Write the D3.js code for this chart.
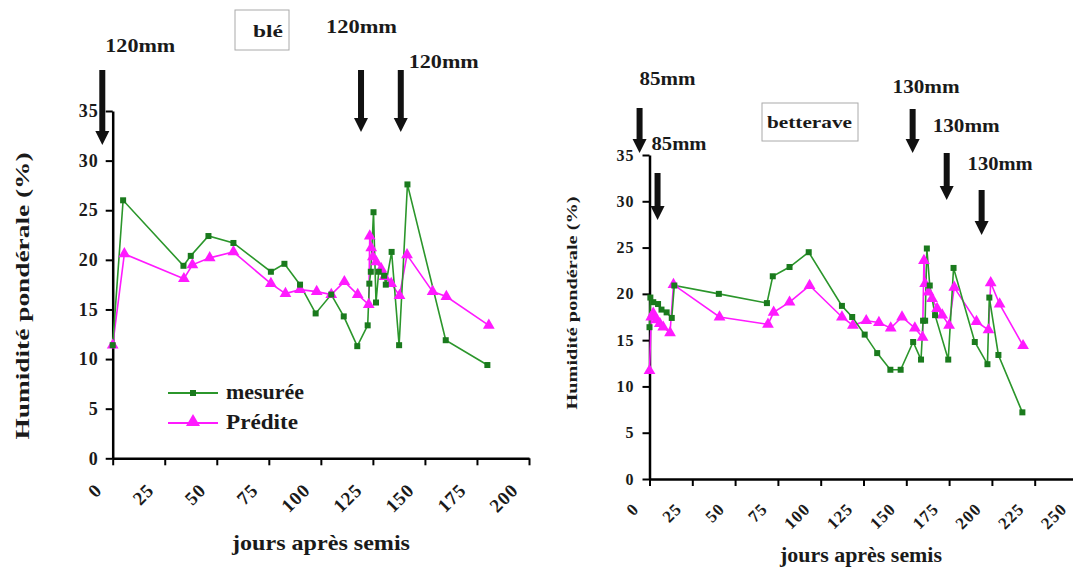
<!DOCTYPE html>
<html>
<head>
<meta charset="utf-8">
<script src="https://cdn.jsdelivr.net/npm/d3@7"></script>
<style>
body { margin: 0; background: #fff; }
text { font-family: "Liberation Serif", "Times New Roman", serif; font-weight: bold; fill: #1a1a1a; }
</style>
</head>
<body>
<script>
// ---- data ----
let yTicks = [0, 5, 10, 15, 20, 25, 30, 35];
let bleXTicks = [0, 25, 50, 75, 100, 125, 150, 175, 200];
let betXTicks = [0, 25, 50, 75, 100, 125, 150, 175, 200, 225, 250];

// blé
let bleMesJours = [0, 5, 34, 37.5, 46, 58, 76, 82.5, 90, 97.5, 105, 111, 117.5, 122.5, 123.3, 124, 125.3, 126.5, 127.8, 130.4, 131.2, 134, 137.6, 141.6, 160, 180];
let bleMesVal   = [11.4, 26.0, 19.4, 20.4, 22.4, 21.7, 18.8, 19.6, 17.5, 14.6, 16.5, 14.3, 11.3, 13.4, 17.6, 18.8, 24.8, 15.7, 18.8, 18.4, 17.5, 20.8, 11.4, 27.6, 11.9, 9.4];
let blePredJours = [0, 5.6, 34.2, 38.3, 46.6, 58, 76, 83, 90, 98, 105, 111.3, 117.7, 123, 123.5, 124.2, 125, 126.6, 129, 130.6, 133.8, 137.8, 141.4, 153.7, 160.3, 180.7];
let blePredVal   = [11.4, 20.6, 18.1, 19.5, 20.2, 20.8, 17.6, 16.6, 17.0, 16.8, 16.5, 17.8, 16.5, 15.5, 22.4, 21.2, 20.3, 19.8, 19.1, 18.3, 17.6, 16.4, 20.5, 16.8, 16.3, 13.4];
let bleIrrigJours = [-5, 119.3, 138.4];
let bleIrrigLabels = ['120mm', '120mm', '120mm'];

// betterave
let betMesJours = [0, 0.5, 2.2, 5, 7, 10, 13, 14.5, 40.5, 68.6, 72, 81.8, 93, 112.4, 118.4, 125.7, 133, 140.7, 146.7, 154, 158.6, 159.8, 161, 162, 163.7, 166.8, 174.5, 177.6, 190, 197.4, 198.5, 203.8, 217.8];
let betMesVal   = [16.4, 19.6, 19.1, 18.9, 18.3, 18.0, 17.4, 20.9, 20.0, 19.0, 21.9, 22.9, 24.5, 18.7, 17.5, 15.6, 13.6, 11.8, 11.8, 14.8, 12.9, 17.1, 17.1, 24.9, 20.9, 17.7, 12.9, 22.8, 14.8, 12.4, 19.6, 13.4, 7.2];
let betPredJours = [0, 1, 2.2, 4.2, 6, 8, 12, 14, 40.9, 69.2, 72.5, 81.8, 93.5, 112.4, 118.8, 126.6, 134, 140.9, 147.5, 155, 159.5, 160.3, 161, 163, 165, 168, 171, 175, 178, 191, 198, 199.3, 204.5, 218.2];
let betPredVal   = [11.7, 17.5, 17.9, 17.2, 16.8, 16.4, 15.8, 21.0, 17.5, 16.7, 18.0, 19.1, 20.9, 17.5, 16.6, 17.1, 16.9, 16.3, 17.5, 16.3, 15.3, 23.6, 21.1, 20.2, 19.5, 18.4, 17.7, 16.6, 20.7, 17.0, 16.1, 21.2, 18.9, 14.4];
let betIrrigJours = [-5.8, 4.7, 153.7, 173.6, 194];
let betIrrigLabels = ['85mm', '85mm', '130mm', '130mm', '130mm'];

let yTitle = 'Humidité pondérale (%)';
let xTitle = 'jours après semis';

let GREEN = '#2b962b';
let GREEN_DARK = '#1a7a1d';
let MAGENTA = '#ff1aff';

let width = 1073;
let height = 569;

let svg = d3.select('body').append('svg')
            .attr('width', width)
            .attr('height', height);

// layout of the two panels
let panels = [
    {
        name: 'blé', mesJ: bleMesJours, mesV: bleMesVal, predJ: blePredJours, predV: blePredVal,
        xTicks: bleXTicks, xMax: 200, left: 112.7, right: 529, bottom: 458.3, top: 111,
        yFont: 18, xFont: 19, yLabelGap: 14,
        xLabel: { x: 321, y: 550, len: 178, size: 22 },
        yLabel: { x: 29, y: 296, len: 287, size: 19 },
        box: { x: 235, y: 10, w: 54, h: 40, tx: 253, ty: 37, len: 30, size: 17 },
        irrig: bleIrrigJours, irrigLabels: bleIrrigLabels,
        arrows: [ { top: 70, tip: 145, dx: 3, ly: 52, len: 70 },
                  { top: 70, tip: 132, dx: -35, ly: 33, len: 71 },
                  { top: 70, tip: 132, dx: 8, ly: 68, len: 70 } ],
        legend: true
    },
    {
        name: 'betterave', mesJ: betMesJours, mesV: betMesVal, predJ: betPredJours, predV: betPredVal,
        xTicks: betXTicks, xMax: 250, left: 649.5, right: 1077.5, bottom: 479, top: 155,
        yFont: 16, xFont: 17, yLabelGap: 15,
        xLabel: { x: 861, y: 562, len: 162, size: 20 },
        yLabel: { x: 577, y: 303, len: 213, size: 15 },
        box: { x: 762, y: 103, w: 96, h: 38, tx: 767, ty: 128, len: 85, size: 16 },
        irrig: betIrrigJours, irrigLabels: betIrrigLabels,
        arrows: [ { top: 108, tip: 153, dx: 0, ly: 85, len: 56 },
                  { top: 173, tip: 220, dx: -6, ly: 150, len: 55 },
                  { top: 109, tip: 153, dx: -20, ly: 93, len: 67 },
                  { top: 153, tip: 200, dx: -14, ly: 132, len: 67 },
                  { top: 190, tip: 235, dx: -14, ly: 170, len: 65 } ],
        legend: false
    }
];

function drawArrow(g, x, top, tip) {
    g.append('rect')
        .attr('x', x - 3).attr('y', top)
        .attr('width', 6).attr('height', tip - top - 12)
        .attr('fill', '#111');
    g.append('path')
        .attr('d', 'M' + (x - 7) + ',' + (tip - 14) + 'L' + (x + 7) + ',' + (tip - 14) + 'L' + x + ',' + tip + 'Z')
        .attr('fill', '#111');
}

let tri = d3.symbol().type(d3.symbolTriangle).size(60);

panels.forEach(function(p) {
    let xScale = d3.scaleLinear().domain([0, p.xMax]).range([p.left, p.right]);
    let yScale = d3.scaleLinear().domain([0, 35]).range([p.bottom, p.top]);

    let g = svg.append('g');

    // y axis
    let yAxis = g.append('g')
        .attr('transform', 'translate(' + p.left + ',0)')
        .call(d3.axisLeft(yScale).tickValues(yTicks).tickSize(7).tickSizeOuter(0).tickPadding(p.yLabelGap - 7));
    yAxis.select('.domain').attr('stroke', '#000').attr('stroke-width', 2.5);
    yAxis.selectAll('.tick line').attr('stroke', '#000').attr('stroke-width', 2);
    yAxis.selectAll('.tick text')
        .attr('fill', '#1a1a1a')
        .style('font-family', '"Liberation Serif", serif')
        .style('font-weight', 'bold')
        .style('font-size', p.yFont + 'px')
        .style('letter-spacing', '1px');

    // x axis: default labels removed, replaced by labels turned 45 degrees
    let xAxis = g.append('g')
        .attr('transform', 'translate(0,' + p.bottom + ')')
        .call(d3.axisBottom(xScale).tickValues(p.xTicks).tickSize(7).tickSizeOuter(0));
    xAxis.select('.domain').attr('stroke', '#000').attr('stroke-width', 2.5);
    xAxis.selectAll('.tick line').attr('stroke', '#000').attr('stroke-width', 2);
    xAxis.selectAll('.tick text').remove();
    xAxis.selectAll('.tick')
        .append('g')
        .attr('transform', 'translate(-10,' + (p.xFont + 14) + ') rotate(-45)')
        .append('text')
        .attr('text-anchor', 'end')
        .attr('fill', '#1a1a1a')
        .style('font-family', '"Liberation Serif", serif')
        .style('font-weight', 'bold')
        .style('font-size', p.xFont + 'px')
        .style('letter-spacing', '1px')
        .text(function(d) { return d; });

    // axis titles
    g.append('text')
        .attr('x', p.xLabel.x).attr('y', p.xLabel.y)
        .attr('text-anchor', 'middle')
        .attr('textLength', p.xLabel.len).attr('lengthAdjust', 'spacingAndGlyphs')
        .style('font-size', p.xLabel.size + 'px')
        .text(xTitle);
    g.append('text')
        .attr('transform', 'translate(' + p.yLabel.x + ',' + p.yLabel.y + ') rotate(-90)')
        .attr('text-anchor', 'middle')
        .attr('textLength', p.yLabel.len).attr('lengthAdjust', 'spacingAndGlyphs')
        .style('font-size', p.yLabel.size + 'px')
        .text(yTitle);

    // crop name box
    g.append('rect')
        .attr('x', p.box.x).attr('y', p.box.y)
        .attr('width', p.box.w).attr('height', p.box.h)
        .attr('fill', 'none').attr('stroke', '#aaa').attr('stroke-width', 1);
    g.append('text')
        .attr('x', p.box.tx).attr('y', p.box.ty)
        .attr('textLength', p.box.len).attr('lengthAdjust', 'spacingAndGlyphs')
        .style('font-size', p.box.size + 'px')
        .text(p.name);

    // lines
    let line = d3.line()
        .x(function(d) { return xScale(d[0]); })
        .y(function(d) { return yScale(d[1]); });

    let mes = d3.zip(p.mesJ, p.mesV);
    let pred = d3.zip(p.predJ, p.predV);

    g.append('path').datum(pred)
        .attr('d', line).attr('fill', 'none')
        .attr('stroke', MAGENTA).attr('stroke-width', 1.6);
    g.append('path').datum(mes)
        .attr('d', line).attr('fill', 'none')
        .attr('stroke', GREEN).attr('stroke-width', 1.6);

    g.selectAll('.pred').data(pred).enter().append('path')
        .attr('class', 'pred')
        .attr('d', tri)
        .attr('transform', function(d) { return 'translate(' + xScale(d[0]) + ',' + yScale(d[1]) + ')'; })
        .attr('fill', MAGENTA);
    g.selectAll('.mes').data(mes).enter().append('rect')
        .attr('class', 'mes')
        .attr('x', function(d) { return xScale(d[0]) - 3; })
        .attr('y', function(d) { return yScale(d[1]) - 3; })
        .attr('width', 6).attr('height', 6)
        .attr('fill', GREEN_DARK);

    // irrigation arrows
    p.irrig.forEach(function(day, i) {
        let a = p.arrows[i];
        let x = xScale(day);
        drawArrow(g, x, a.top, a.tip);
        g.append('text')
            .attr('x', x + a.dx).attr('y', a.ly)
            .attr('textLength', a.len).attr('lengthAdjust', 'spacingAndGlyphs')
            .style('font-size', '18px')
            .text(p.irrigLabels[i]);
    });

    // legend
    if (p.legend) {
        let items = [
            { label: 'mesurée', color: GREEN, y: 393, len: 78 },
            { label: 'Prédite', color: MAGENTA, y: 423, len: 72 }
        ];
        items.forEach(function(it, i) {
            g.append('line')
                .attr('x1', 168).attr('x2', 218)
                .attr('y1', it.y).attr('y2', it.y)
                .attr('stroke', it.color).attr('stroke-width', 2);
            if (i === 0) {
                g.append('rect').attr('x', 190).attr('y', it.y - 3)
                    .attr('width', 6).attr('height', 6).attr('fill', GREEN_DARK);
            } else {
                g.append('path')
                    .attr('d', d3.symbol().type(d3.symbolTriangle).size(85))
                    .attr('transform', 'translate(193,' + (it.y - 1) + ')')
                    .attr('fill', MAGENTA);
            }
            g.append('text')
                .attr('x', 226).attr('y', it.y + 6)
                .attr('textLength', it.len).attr('lengthAdjust', 'spacingAndGlyphs')
                .style('font-size', '20px')
                .text(it.label);
        });
    }
});
</script>
</body>
</html>
